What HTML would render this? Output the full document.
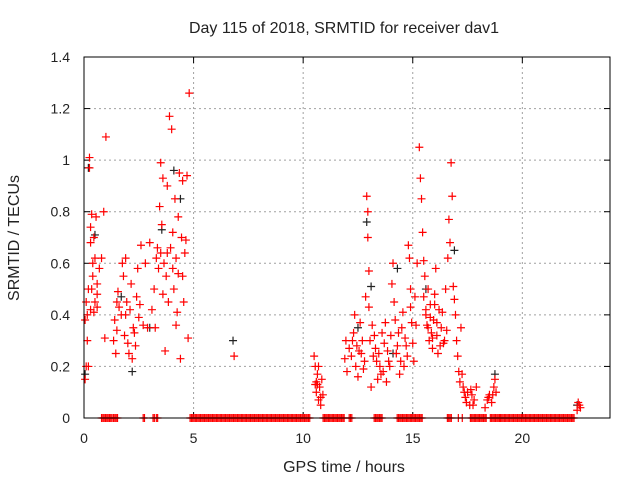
<!DOCTYPE html>
<html><head><meta charset="utf-8"><style>
body{margin:0;background:#fff}
svg text{font-family:"Liberation Sans",sans-serif;font-size:14px;fill:#222}
svg text.big{font-size:16px}
</style></head><body>
<svg id="chart" width="640" height="480" xmlns="http://www.w3.org/2000/svg">
<text class="big" x="344" y="33" text-anchor="middle">Day 115 of 2018, SRMTID for receiver dav1</text>
<text class="big" x="344" y="472" text-anchor="middle">GPS time / hours</text>
<text class="big" transform="translate(19,238) rotate(-90)" text-anchor="middle">SRMTID / TECUs</text>
<g id="grid"></g><g id="ticks"></g><g id="black"></g><g id="red"></g>
<rect x="84" y="57" width="526" height="361" fill="none" stroke="#000" stroke-width="1"/>
</svg>
<script>
const xTicks=[0,5,10,15,20];
const yTicks=[0,0.2,0.4,0.6,0.8,1,1.2,1.4];
const yTickLabels=["0","0.2","0.4","0.6","0.8","1","1.2","1.4"];
const redT=[0.05,0.1,0.1,0.15,0.2,0.25,0.25,0.3,0.3,0.35,0.4,0.4,0.45,0.5,0.5,0.55,0.6,0.6,0.7,0.8,0.9,1.0,0.95,0.05,0.15,0.3,0.45,0.2,
1.35,1.4,1.45,1.5,1.55,1.6,1.7,1.75,1.8,1.85,1.9,1.95,2.0,2.05,2.1,2.15,2.2,2.25,2.3,2.4,2.45,2.5,2.6,2.7,2.8,2.9,3.0,3.1,3.2,3.25,3.3,3.35,3.4,
3.45,3.5,3.55,3.6,3.65,3.7,3.75,3.8,3.85,3.9,3.95,4.0,4.05,4.1,4.15,4.2,4.25,4.3,4.35,4.4,4.45,4.5,4.55,4.6,4.65,4.7,4.75,4.8,4.5,4.2,3.6,4.05,3.5,
6.85,10.5,10.55,10.6,10.6,10.65,10.7,10.75,10.8,10.85,10.9,10.55,10.7,
11.9,11.95,12.0,12.1,12.2,12.3,12.35,12.4,12.45,12.5,12.6,12.65,12.7,12.8,12.85,12.9,12.95,12.95,13.0,13.0,13.05,13.1,13.15,13.2,13.3,13.4,13.5,13.6,13.65,13.7,13.75,13.8,13.9,14.0,14.05,14.1,14.15,14.2,14.25,14.3,14.4,14.5,14.55,14.6,14.7,14.8,14.85,14.9,14.95,15.0,15.05,15.1,
15.2,15.3,15.35,15.4,15.45,15.5,15.55,15.5,15.6,15.65,15.7,15.75,15.8,15.85,15.9,15.95,16.0,16.05,16.1,16.15,16.2,16.3,16.4,16.5,16.6,16.65,16.7,16.75,16.8,16.85,16.9,16.95,17.0,17.05,17.1,17.15,17.2,17.3,17.4,17.5,17.6,17.7,17.8,17.9,
18.3,18.4,18.5,18.6,18.7,18.75,18.8,22.5,22.6,22.65,22.55,
12.25,12.55,12.75,13.25,13.35,13.45,13.55,13.85,13.95,14.35,14.45,14.65,14.75,14.9,15.15,15.6,15.7,15.8,15.9,16.0,16.1,16.25,16.35,16.45,16.55,17.25,17.35,17.45,17.65,17.75,18.45,18.65,10.65,10.8,1.5,1.9,2.35,2.55,3.8,4.3,0.35,0.6];
const redV=[0.15,0.45,0.2,0.4,0.5,1.01,0.97,0.74,0.68,0.79,0.6,0.55,0.7,0.62,0.45,0.78,0.52,0.48,0.58,0.62,0.8,1.09,0.31,0.38,0.3,0.42,0.41,0.2,
0.3,0.38,0.25,0.34,0.49,0.43,0.4,0.6,0.55,0.32,0.62,0.45,0.29,0.25,0.42,0.52,0.23,0.35,0.33,0.47,0.58,0.39,0.67,0.36,0.6,0.35,0.68,0.42,0.5,0.35,0.62,0.66,0.58,
0.82,0.99,0.75,0.93,0.6,0.26,0.55,0.9,0.45,1.17,0.66,1.12,0.72,0.5,0.85,0.62,0.41,0.78,0.95,0.23,0.7,0.92,0.45,0.64,0.69,0.94,0.31,1.26,0.55,0.36,0.48,0.58,0.64,
0.24,0.24,0.2,0.14,0.1,0.17,0.07,0.12,0.05,0.15,0.09,0.13,0.2,
0.23,0.3,0.18,0.27,0.24,0.33,0.4,0.2,0.28,0.16,0.37,0.25,0.3,0.22,0.47,0.86,0.8,0.7,0.57,0.43,0.3,0.12,0.36,0.24,0.27,0.15,0.2,0.33,0.18,0.29,0.37,0.14,0.22,0.32,0.52,0.6,0.45,0.38,0.25,0.28,0.17,0.35,0.41,0.2,0.28,0.67,0.62,0.5,0.37,0.29,0.22,0.47,
0.6,1.05,0.93,0.85,0.72,0.61,0.55,0.47,0.4,0.36,0.5,0.3,0.44,0.33,0.27,0.38,0.48,0.58,0.32,0.25,0.42,0.35,0.29,0.5,0.62,0.77,0.68,0.99,0.86,0.51,0.46,0.4,0.3,0.24,0.18,0.14,0.35,0.12,0.08,0.1,0.05,0.09,0.07,0.12,
0.04,0.07,0.09,0.06,0.12,0.15,0.1,0.03,0.05,0.04,0.06,
0.3,0.26,0.19,0.32,0.22,0.25,0.17,0.26,0.2,0.33,0.22,0.31,0.24,0.43,0.36,0.42,0.35,0.39,0.31,0.44,0.37,0.28,0.41,0.3,0.34,0.17,0.1,0.06,0.11,0.05,0.08,0.09,0.13,0.08,0.45,0.4,0.28,0.44,0.64,0.56,0.5,0.43];
const blackT=[0.05,0.2,0.5,2.2,3.55,4.1,4.4,6.8,12.9,13.1,14.3,15.6,16.9,18.75,22.5,12.5,14.1,3.0,1.7];
const blackV=[0.17,0.97,0.71,0.18,0.73,0.96,0.85,0.3,0.76,0.51,0.58,0.5,0.65,0.17,0.05,0.35,0.25,0.35,0.47];
const zeroStart=[0.8,1.35,2.7,3.15,3.3,4.84,10.91,12.1,13.24,14.29,16.58,17.08,17.26,17.63,18.54,19.0];
const zeroEnd=[1.3,1.55,2.8,3.25,3.4,10.32,11.92,12.24,13.65,15.48,16.8,17.1,17.28,18.36,18.99,22.4];
const NS="http://www.w3.org/2000/svg";
const X=t=>84+t*526/24, Y=v=>418-v*361/1.4;
function mk(tag,attrs,parent){const e=document.createElementNS(NS,tag);for(const k in attrs)e.setAttribute(k,attrs[k]);parent.appendChild(e);return e;}
const grid=document.getElementById('grid'),ticks=document.getElementById('ticks');
xTicks.forEach(t=>{
 if(t>0){const g=mk('line',{x1:X(t),x2:X(t),y1:57,y2:418,stroke:'#a0a0a0','stroke-dasharray':'2,3'},grid);
 
 }
 mk('line',{x1:X(t),x2:X(t),y1:418,y2:412,stroke:'#000'},ticks);
 mk('line',{x1:X(t),x2:X(t),y1:57,y2:63,stroke:'#000'},ticks);
 const l=mk('text',{x:X(t),y:443,'text-anchor':'middle'},ticks);l.textContent=t;
 
 
});
yTicks.forEach((v,i)=>{
 if(v>0&&v<1.4){const g=mk('line',{x1:84,x2:610,y1:Y(v),y2:Y(v),stroke:'#a0a0a0','stroke-dasharray':'2,3'},grid);
 
 }
 mk('line',{x1:84,x2:90,y1:Y(v),y2:Y(v),stroke:'#000'},ticks);
 mk('line',{x1:604,x2:610,y1:Y(v),y2:Y(v),stroke:'#000'},ticks);
 const l=mk('text',{x:70,y:Y(v)+5,'text-anchor':'end'},ticks);l.textContent=yTickLabels[i];
 
 
});
function plus(g,t,v,c){const x=X(t),y=Y(v);
 const p=mk('path',{d:`M${x-4},${y}h8M${x},${y-4}v8`,stroke:c,'stroke-width':1.2,fill:'none'},g);
 
 }
const bg=document.getElementById('black'),rg=document.getElementById('red');
blackT.forEach((t,i)=>plus(bg,t,blackV[i],'#222'));
redT.forEach((t,i)=>plus(rg,t,redV[i],'#ff0000'));
zeroStart.forEach((s,i)=>{for(let t=s;t<=zeroEnd[i]+1e-9;t+=0.06)plus(rg,t,0,'#ff0000');});
</script>
</body></html>
